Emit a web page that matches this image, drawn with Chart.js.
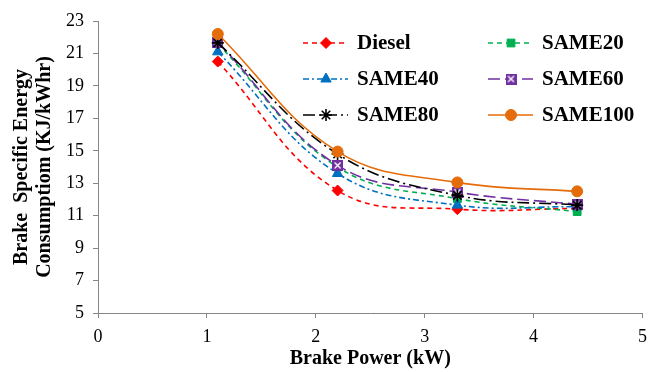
<!DOCTYPE html>
<html>
<head>
<meta charset="utf-8">
<script src="https://cdn.jsdelivr.net/npm/chart.js@4.4.1/dist/chart.umd.min.js"></script>
<style>
  html, body { margin: 0; background: #fff; overflow: hidden; }
  #wrap { width: 655px; height: 372px; }
</style>
</head>
<body>
<div id="wrap"><canvas id="bsec" width="655" height="372"></canvas></div>
<script>
// brake power (kW) on x, BSEC (KJ/kWhr) on y
const brakePower = [1.1, 2.2, 3.3, 4.4];
const seriesNames = ['Diesel', 'SAME20', 'SAME40', 'SAME60', 'SAME80', 'SAME100'];
const diesel  = [20.5, 12.55, 11.4, 11.45];
const same20  = [21.6, 14.0, 12.05, 11.25];
const same40  = [21.1, 13.6, 11.65, 11.55];
const same60  = [21.7, 14.1, 12.45, 11.7];
const same80  = [21.65, 14.8, 12.25, 11.65];
const same100 = [22.2, 14.95, 13.05, 12.5];
const xRange = [0, 5, 1];   // min, max, step
const yRange = [5, 23, 2];

const serif = '"Liberation Serif", "Times New Roman", serif';
const axisGrey = '#868686';

// purple square with a white cross, like the excel marker
function boxCross(color) {
    const c = document.createElement('canvas');
    c.width = 11; c.height = 11;
    const g = c.getContext('2d');
    g.fillStyle = color;
    g.fillRect(0, 0, 11, 11);
    g.strokeStyle = '#fff';
    g.lineWidth = 1.4;
    g.beginPath();
    g.moveTo(2.5, 2.5); g.lineTo(8.5, 8.5);
    g.moveTo(8.5, 2.5); g.lineTo(2.5, 8.5);
    g.stroke();
    return c;
}

const styles = [
    { color: '#FF0000', dash: [5, 4],        point: 'rectRot',  r: 5.5 },
    { color: '#00B050', dash: [5, 4],        point: 'rect',     r: 5.5 },
    { color: '#0070C0', dash: [6, 3, 2, 3],  point: 'triangle', r: 6 },
    { color: '#7030A0', dash: [12, 5],       point: boxCross('#7030A0'), r: 6 },
    { color: '#000000', dash: [12, 4, 2, 4], point: 'star',     r: 6 },
    { color: '#E46C0A', dash: [],            point: 'circle',   r: 5.5 }
];
const values = [diesel, same20, same40, same60, same80, same100];

const datasets = seriesNames.map((name, i) => ({
    label: name,
    data: brakePower.map((x, j) => ({ x: x, y: values[i][j] })),
    borderColor: styles[i].color,
    backgroundColor: styles[i].color,
    pointBackgroundColor: styles[i].color,
    pointBorderColor: styles[i].color,
    pointBorderWidth: i === 4 ? 1.6 : 1,
    borderWidth: 1.6,
    borderDash: styles[i].dash,
    pointStyle: styles[i].point,
    pointRadius: styles[i].r,
    tension: 0.4,
    fill: false,
    order: 5 - i
}));

// legend in two columns inside the plot, drawn by hand
const gridLegend = {
    id: 'gridLegend',
    afterDraw(chart) {
        const ctx = chart.ctx;
        const cols = [303, 488];
        const rows = [43, 79, 115];
        chart.data.datasets.forEach((ds, i) => {
            const x = cols[i % 2];
            const y = rows[Math.floor(i / 2)];
            ctx.save();
            ctx.strokeStyle = ds.borderColor;
            ctx.lineWidth = ds.borderWidth;
            ctx.setLineDash(ds.borderDash);
            ctx.beginPath();
            ctx.moveTo(x, y);
            ctx.lineTo(x + 45, y);
            ctx.stroke();
            ctx.setLineDash([]);
            ctx.fillStyle = ds.pointBackgroundColor;
            ctx.strokeStyle = ds.pointBorderColor;
            ctx.lineWidth = ds.pointBorderWidth;
            Chart.helpers.drawPoint(ctx, {
                pointStyle: ds.pointStyle,
                radius: ds.pointRadius,
                borderWidth: ds.pointBorderWidth,
                rotation: 0
            }, x + 23, y);
            ctx.fillStyle = '#000';
            ctx.font = 'bold 21px ' + serif;
            ctx.textBaseline = 'middle';
            ctx.textAlign = 'left';
            ctx.fillText(ds.label, x + 54, y + 1);
            ctx.restore();
        });
    }
};

new Chart(document.getElementById('bsec'), {
    type: 'line',
    data: { datasets: datasets },
    options: {
        responsive: false,
        animation: false,
        layout: { padding: { top: 21, right: 0 } },
        plugins: {
            legend: { display: false },
            tooltip: { enabled: false }
        },
        scales: {
            x: {
                type: 'linear',
                min: xRange[0], max: xRange[1],
                afterFit: s => { s.height = 59; },
                ticks: {
                    stepSize: xRange[2],
                    color: '#000',
                    padding: 8,
                    font: { family: serif, size: 18 }
                },
                grid: { drawOnChartArea: false, tickLength: 5, color: axisGrey },
                border: { color: axisGrey, width: 1 },
                title: {
                    display: true,
                    text: 'Brake Power (kW)',
                    color: '#000',
                    padding: { top: 0, bottom: 2 },
                    font: { family: serif, size: 20, weight: 'bold', lineHeight: 1.15 }
                }
            },
            y: {
                min: yRange[0], max: yRange[1],
                afterFit: s => { s.width = 98; },
                ticks: {
                    stepSize: yRange[2],
                    color: '#000',
                    padding: 9,
                    font: { family: serif, size: 18 }
                },
                grid: { drawOnChartArea: false, tickLength: 5, color: axisGrey },
                border: { color: axisGrey, width: 1 },
                title: {
                    display: true,
                    text: ['Brake  Specific Energy', 'Consumptiom (KJ/kWhr)'],
                    color: '#000',
                    padding: { top: 10, bottom: 0 },
                    font: { family: serif, size: 20, weight: 'bold', lineHeight: 1.15 }
                }
            }
        }
    },
    plugins: [gridLegend]
});
</script>
</body>
</html>
